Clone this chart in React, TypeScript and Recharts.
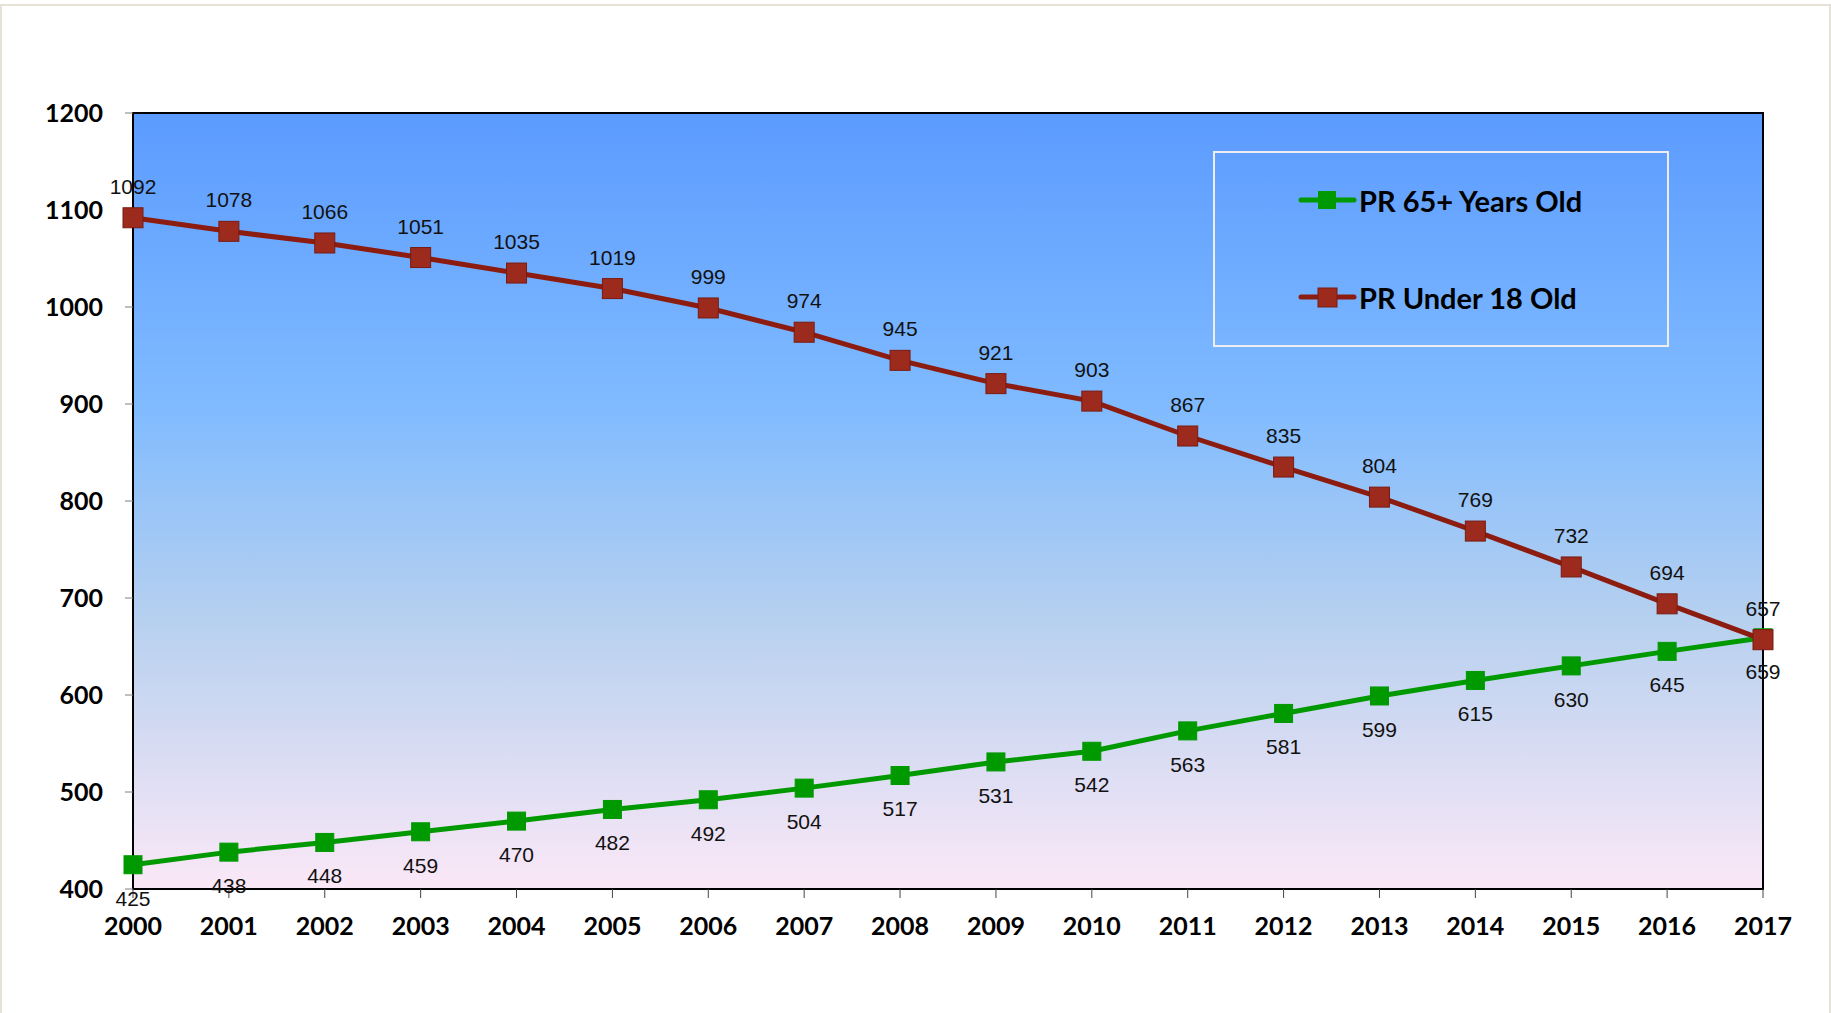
import React from 'react';
import { LineChart, Line, XAxis, YAxis, ReferenceArea, LabelList, Legend } from 'recharts';

const years = [2000, 2001, 2002, 2003, 2004, 2005, 2006, 2007, 2008, 2009, 2010, 2011, 2012, 2013, 2014, 2015, 2016, 2017];
const over65 = [425, 438, 448, 459, 470, 482, 492, 504, 517, 531, 542, 563, 581, 599, 615, 630, 645, 659];
const under18 = [1092, 1078, 1066, 1051, 1035, 1019, 999, 974, 945, 921, 903, 867, 835, 804, 769, 732, 694, 657];
const yTicks = [400, 500, 600, 700, 800, 900, 1000, 1100, 1200];

const data = years.map((y, i) => ({ year: y, over65: over65[i], under18: under18[i] }));

const GREEN = '#009900';
const RED_LINE = '#8c1c10';
const RED_FILL = '#9c2b1e';
const RED_STROKE = '#7a1a10';

const squareDot = (fill: string, stroke: string, size: number) => (props: any) => {
  const { cx, cy, index } = props;
  if (cx == null || cy == null) return <g key={'d' + index} />;
  return (
    <rect key={'d' + index} x={cx - size / 2} y={cy - size / 2} width={size} height={size} fill={fill} stroke={stroke} strokeWidth={1} />
  );
};

const LegendBox = () => (
  <svg width={456} height={196} style={{ display: 'block' }}>
    <rect x={1} y={1} width={454} height={194} fill="none" stroke="#eeeeee" strokeWidth={2} />
    <line x1={88} x2={141} y1={49} y2={49} stroke={GREEN} strokeWidth={5} strokeLinecap="round" />
    <rect x={105} y={40} width={18} height={18} fill={GREEN} />
    <text x={146} y={49} dominantBaseline="central" fontFamily="Lato, sans-serif" fontWeight={700} fontSize={29} fill="#000">PR 65+ Years Old</text>
    <line x1={88} x2={141} y1={146} y2={146} stroke={RED_LINE} strokeWidth={5} strokeLinecap="round" />
    <rect x={105} y={137} width={19} height={19} fill={RED_FILL} stroke={RED_STROKE} strokeWidth={1} />
    <text x={146} y={146} dominantBaseline="central" fontFamily="Lato, sans-serif" fontWeight={700} fontSize={29} fill="#000">PR Under 18 Old</text>
  </svg>
);

export default function App() {
  return (
    <div style={{ position: 'absolute', left: 0, top: 0, width: 1831, height: 1013, background: '#fff', overflow: 'hidden' }}>
      <div style={{ position: 'absolute', left: 0, top: 4, width: 1827, height: 1020, borderLeft: '2px solid #e6e2d8', borderTop: '2px solid #e6e2d8', borderRight: '2px solid #e6e2d8' }} />
      <div style={{ position: 'absolute', left: 0, top: 0 }}>
        <LineChart width={1831} height={1013} data={data} margin={{ top: 113, right: 68, bottom: 64, left: 53 }}>
          <defs>
            <linearGradient id="bg" x1="0" y1="0" x2="0" y2="1">
              <stop offset="0" stopColor="#5b9bff" />
              <stop offset="0.38" stopColor="#80bbff" />
              <stop offset="0.65" stopColor="#b6d0ef" />
              <stop offset="1" stopColor="#fbe8f7" />
            </linearGradient>
          </defs>
          <ReferenceArea x1={2000} x2={2017} y1={400} y2={1200} fill="url(#bg)" fillOpacity={1} stroke="#000" strokeWidth={2} ifOverflow="extendDomain" />
          <XAxis
            dataKey="year"
            type="number"
            domain={[2000, 2017]}
            ticks={years}
            interval={0}
            height={60}
            axisLine={{ stroke: '#000', strokeWidth: 2 }}
            tickLine={{ stroke: '#444' }}
            tickSize={9}
            tickMargin={19}
            tick={{ fill: '#000', fontFamily: 'Lato, sans-serif', fontWeight: 700, fontSize: 25 }}
          />
          <YAxis
            type="number"
            domain={[400, 1200]}
            ticks={yTicks}
            interval={0}
            width={80}
            axisLine={{ stroke: '#000', strokeWidth: 2 }}
            tickLine={{ stroke: '#808080' }}
            tickSize={8}
            tickMargin={22}
            tick={{ fill: '#000', fontFamily: 'Lato, sans-serif', fontWeight: 700, fontSize: 25 }}
          />
          <Legend layout="vertical" align="center" verticalAlign="middle" wrapperStyle={{ position: 'absolute', left: 1213, top: 151, width: 456, height: 196 }} content={() => <LegendBox />} />
          <Line
            name="PR 65+ Years Old"
            dataKey="over65"
            stroke={GREEN}
            strokeWidth={5}
            isAnimationActive={false}
            dot={squareDot(GREEN, GREEN, 18)}
            activeDot={false}
          >
            <LabelList dataKey="over65" position="bottom" offset={26} fill="#111" fontFamily="Arial, 'Liberation Sans', sans-serif" fontSize={21} />
          </Line>
          <Line
            name="PR Under 18 Old"
            dataKey="under18"
            stroke={RED_LINE}
            strokeWidth={5}
            isAnimationActive={false}
            dot={squareDot(RED_FILL, RED_STROKE, 20)}
            activeDot={false}
          >
            <LabelList dataKey="under18" position="top" offset={24} fill="#111" fontFamily="Arial, 'Liberation Sans', sans-serif" fontSize={21} />
          </Line>
        </LineChart>
      </div>
    </div>
  );
}
